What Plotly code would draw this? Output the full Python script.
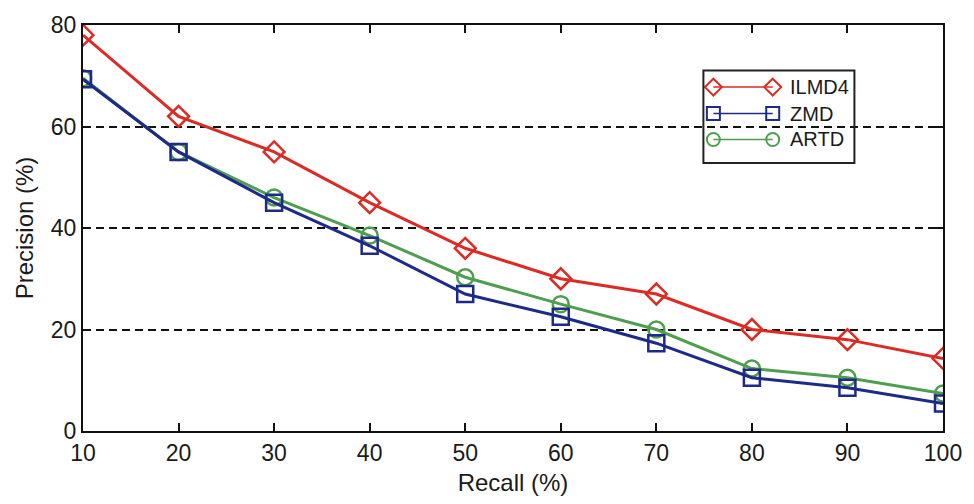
import plotly.graph_objects as go

# Precision/recall curves for three descriptors
recall = [10, 20, 30, 40, 50, 60, 70, 80, 90, 100]
ilmd4 = [78, 62, 55, 45, 36, 30, 27, 20, 18, 14.3]
zmd = [69.3, 55, 45, 36.5, 27, 22.5, 17.3, 10.5, 8.5, 5.4]
artd = [69.5, 55, 46, 38.5, 30.3, 25, 20, 12.3, 10.5, 7.4]

series_names = ["ILMD4", "ZMD", "ARTD"]
series_values = [ilmd4, zmd, artd]
colors = ["#dc2b24", "#1d2a88", "#4f9e4f"]
symbols = ["diamond-open", "square-open", "circle-open"]
x_ticks = [10, 20, 30, 40, 50, 60, 70, 80, 90, 100]
y_ticks = [0, 20, 40, 60, 80]

FONT = "Liberation Sans, Arial, sans-serif"

fig = go.Figure()

# Draw ARTD before ZMD so the blue squares sit on top
order = [0, 2, 1]
for i in order:
    fig.add_trace(go.Scatter(
        x=recall, y=series_values[i], name=series_names[i],
        mode="lines+markers",
        line=dict(color=colors[i], width=3),
        marker=dict(symbol=symbols[i], size=16, color=colors[i],
                    line=dict(width=2.5, color=colors[i])),
        showlegend=False,
    ))

# Boxed legend drawn on an overlay axis in fractional units
leg_rows = [0.847, 0.782, 0.718]
leg_x0, leg_x1, leg_tx = 0.733, 0.802, 0.820
for i in range(3):
    fig.add_trace(go.Scatter(
        x=[leg_x0, leg_x1], y=[leg_rows[i], leg_rows[i]],
        xaxis="x2", yaxis="y2", mode="lines+markers",
        line=dict(color=colors[i], width=1.5),
        marker=dict(symbol=symbols[i], size=13, color=colors[i],
                    line=dict(width=2, color=colors[i])),
        showlegend=False, hoverinfo="skip",
    ))
    fig.add_annotation(
        x=leg_tx, y=leg_rows[i], xref="x2", yref="y2",
        text=series_names[i], showarrow=False, xanchor="left",
        font=dict(family=FONT, size=20, color="#1a1a1a"),
    )

fig.add_shape(type="rect", xref="x2", yref="y2",
              x0=0.7214, x1=0.897, y0=0.660, y1=0.888,
              line=dict(color="#222", width=2), fillcolor="rgba(255,255,255,0)")

axis_common = dict(
    showline=True, linecolor="#111", linewidth=2,
    mirror="ticks", ticks="inside", ticklen=8, tickwidth=2, tickcolor="#111",
    tickfont=dict(family=FONT, size=23, color="#1a1a1a"),
    zeroline=False,
)

fig.update_layout(
    width=974, height=504,
    margin=dict(l=83, r=26, t=20, b=72),
    paper_bgcolor="white", plot_bgcolor="white",
    xaxis=dict(
        range=[10, 100], tickvals=x_ticks, showgrid=False,
        title=dict(text="Recall (%)", font=dict(family=FONT, size=24, color="#1a1a1a"),
                   standoff=10),
        **axis_common,
    ),
    yaxis=dict(
        range=[0, 80], tickvals=y_ticks, showgrid=True,
        gridcolor="#111", gridwidth=1.5, griddash="8px,5px",
        title=dict(text="Precision (%)", font=dict(family=FONT, size=24, color="#1a1a1a"),
                   standoff=10),
        **axis_common,
    ),
    xaxis2=dict(overlaying="x", range=[0, 1], visible=False, fixedrange=True),
    yaxis2=dict(overlaying="y", range=[0, 1], visible=False, fixedrange=True),
)

fig.write_html("out.html")
